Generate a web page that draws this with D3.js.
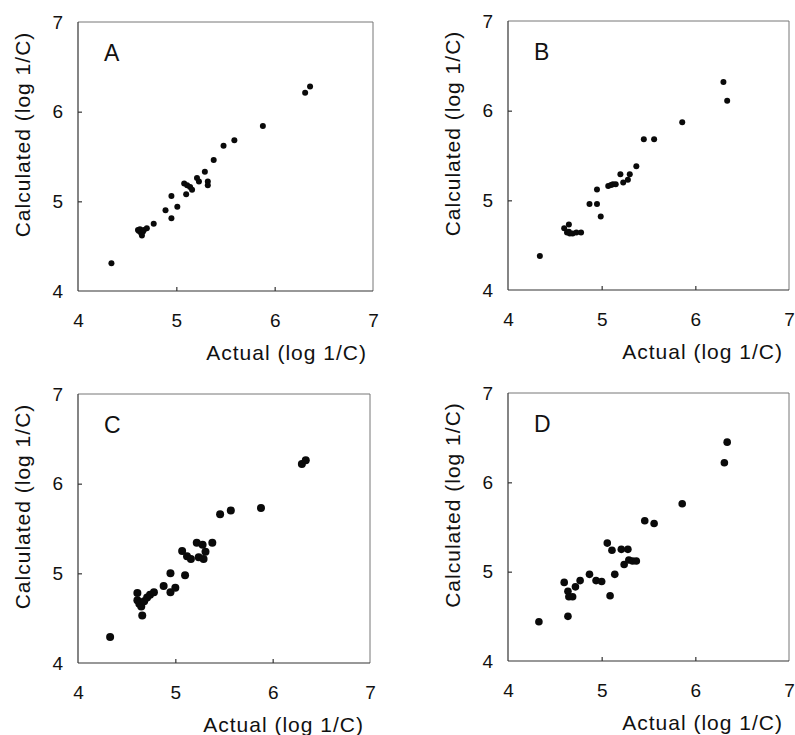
<!DOCTYPE html>
<html>
<head>
<meta charset="utf-8">
<script src="https://cdn.jsdelivr.net/npm/d3@7"></script>
<style>
  html, body { margin: 0; padding: 0; background: #fff; }
  svg text { font-family: "Liberation Sans", Arial, Helvetica, sans-serif; fill: #111; }
</style>
</head>
<body>
<svg id="chart" width="795" height="735"></svg>
<script>
// ---- data ----
const tickValues = [4, 5, 6, 7];
const xTitle = "Actual (log 1/C)";
const yTitle = "Calculated (log 1/C)";
const panelLabels = ["A", "B", "C", "D"];

const actualA = [4.34, 4.61, 4.62, 4.63, 4.64, 4.65, 4.66, 4.67, 4.70, 4.77, 4.89, 4.95, 4.95, 5.01,
  5.08, 5.11, 5.14, 5.16, 5.10, 5.21, 5.23, 5.29, 5.32, 5.32, 5.38, 5.48, 5.59, 5.88, 6.31, 6.36];
const calcA = [4.31, 4.68, 4.67, 4.69, 4.65, 4.62, 4.66, 4.68, 4.70, 4.75, 4.90, 5.06, 4.81, 4.94,
  5.20, 5.18, 5.16, 5.13, 5.08, 5.26, 5.22, 5.33, 5.22, 5.18, 5.46, 5.62, 5.68, 5.84, 6.21, 6.28];

const actualB = [4.34, 4.60, 4.63, 4.65, 4.65, 4.66, 4.69, 4.73, 4.78, 4.87, 4.95, 4.95, 4.99,
  5.07, 5.10, 5.12, 5.15, 5.20, 5.23, 5.28, 5.30, 5.37, 5.45, 5.56, 5.86, 6.30, 6.34];
const calcB = [4.38, 4.69, 4.64, 4.73, 4.65, 4.63, 4.63, 4.64, 4.64, 4.96, 5.12, 4.96, 4.82,
  5.16, 5.17, 5.18, 5.18, 5.29, 5.20, 5.23, 5.29, 5.38, 5.68, 5.68, 5.87, 6.32, 6.11];

const actualC = [4.33, 4.61, 4.61, 4.63, 4.65, 4.66, 4.68, 4.71, 4.74, 4.78, 4.88, 4.95, 4.95, 5.00,
  5.07, 5.10, 5.12, 5.16, 5.22, 5.24, 5.29, 5.31, 5.28, 5.38, 5.46, 5.57, 5.88, 6.30, 6.34];
const calcC = [4.29, 4.78, 4.70, 4.66, 4.63, 4.53, 4.69, 4.73, 4.76, 4.79, 4.86, 5.00, 4.79, 4.84,
  5.25, 4.98, 5.19, 5.16, 5.34, 5.18, 5.16, 5.24, 5.32, 5.34, 5.66, 5.70, 5.73, 6.22, 6.26];

const actualD = [4.33, 4.60, 4.64, 4.65, 4.69, 4.64, 4.72, 4.77, 4.87, 4.94, 5.00, 5.06, 5.09, 5.11,
  5.14, 5.21, 5.28, 5.24, 5.29, 5.33, 5.37, 5.46, 5.56, 5.86, 6.31, 6.34];
const calcD = [4.44, 4.88, 4.78, 4.72, 4.72, 4.50, 4.83, 4.90, 4.97, 4.90, 4.89, 5.32, 4.73, 5.24,
  4.97, 5.25, 5.25, 5.08, 5.13, 5.12, 5.12, 5.57, 5.54, 5.76, 6.22, 6.45];

const seriesActual = [actualA, actualB, actualC, actualD];
const seriesCalc = [calcA, calcB, calcC, calcD];

// ---- layout (pixel boxes of each panel) ----
const boxes = [
  { left: 78,  right: 373, top: 22,  bottom: 291, r: 3.0 },
  { left: 508, right: 789, top: 21,  bottom: 290, r: 3.0 },
  { left: 78,  right: 370, top: 394, bottom: 663, r: 4.0 },
  { left: 508, right: 789, top: 393, bottom: 661, r: 3.8 }
];

const svg = d3.select("#chart");

boxes.forEach((b, i) => {
  const x = d3.scaleLinear().domain([4, 7]).range([b.left, b.right]);
  const y = d3.scaleLinear().domain([4, 7]).range([b.bottom, b.top]);
  const g = svg.append("g");

  // frame
  g.append("line").attr("x1", b.left).attr("x2", b.right).attr("y1", b.top).attr("y2", b.top)
    .attr("stroke", "#777").attr("stroke-width", 1);
  g.append("line").attr("x1", b.right).attr("x2", b.right).attr("y1", b.top).attr("y2", b.bottom)
    .attr("stroke", "#777").attr("stroke-width", 1);
  g.append("line").attr("x1", b.left).attr("x2", b.right).attr("y1", b.bottom).attr("y2", b.bottom)
    .attr("stroke", "#333").attr("stroke-width", 1.2);
  g.append("line").attr("x1", b.left).attr("x2", b.left).attr("y1", b.top).attr("y2", b.bottom)
    .attr("stroke", "#333").attr("stroke-width", 1.2);

  // axes
  const xa = g.append("g").attr("transform", `translate(0,${b.bottom})`)
    .call(d3.axisBottom(x).tickValues(tickValues).tickFormat(d3.format("d"))
      .tickSizeInner(-4).tickSizeOuter(0).tickPadding(23));
  const ya = g.append("g").attr("transform", `translate(${b.left},0)`)
    .call(d3.axisLeft(y).tickValues(tickValues).tickFormat(d3.format("d"))
      .tickSizeInner(-4).tickSizeOuter(0).tickPadding(15));
  [xa, ya].forEach(a => {
    a.select(".domain").remove();
    a.selectAll(".tick line").attr("stroke", "#333").attr("stroke-width", 1.2)
      .filter(d => d === 4 || d === 7).remove();
    a.selectAll(".tick text").style("font-size", "19px").attr("fill", "#111");
  });

  // titles
  g.append("text")
    .attr("x", b.right - 6).attr("y", b.bottom + 69)
    .attr("text-anchor", "end")
    .style("font-size", "21px").style("letter-spacing", "1px")
    .text(xTitle);
  g.append("text")
    .attr("transform", `translate(${b.left - 48},${(b.top + b.bottom) / 2 - 22}) rotate(-90)`)
    .attr("text-anchor", "middle")
    .style("font-size", "21px").style("letter-spacing", "1px")
    .text(yTitle);

  // panel letter
  g.append("text")
    .attr("x", b.left + 26).attr("y", b.top + 39)
    .style("font-size", "23px")
    .text(panelLabels[i]);

  // points
  const pts = seriesActual[i].map((a, k) => ({ a, c: seriesCalc[i][k] }));
  g.append("g").selectAll("circle").data(pts).join("circle")
    .attr("cx", d => x(d.a)).attr("cy", d => y(d.c)).attr("r", b.r)
    .attr("fill", "#0a0a0a");
});
</script>
</body>
</html>
